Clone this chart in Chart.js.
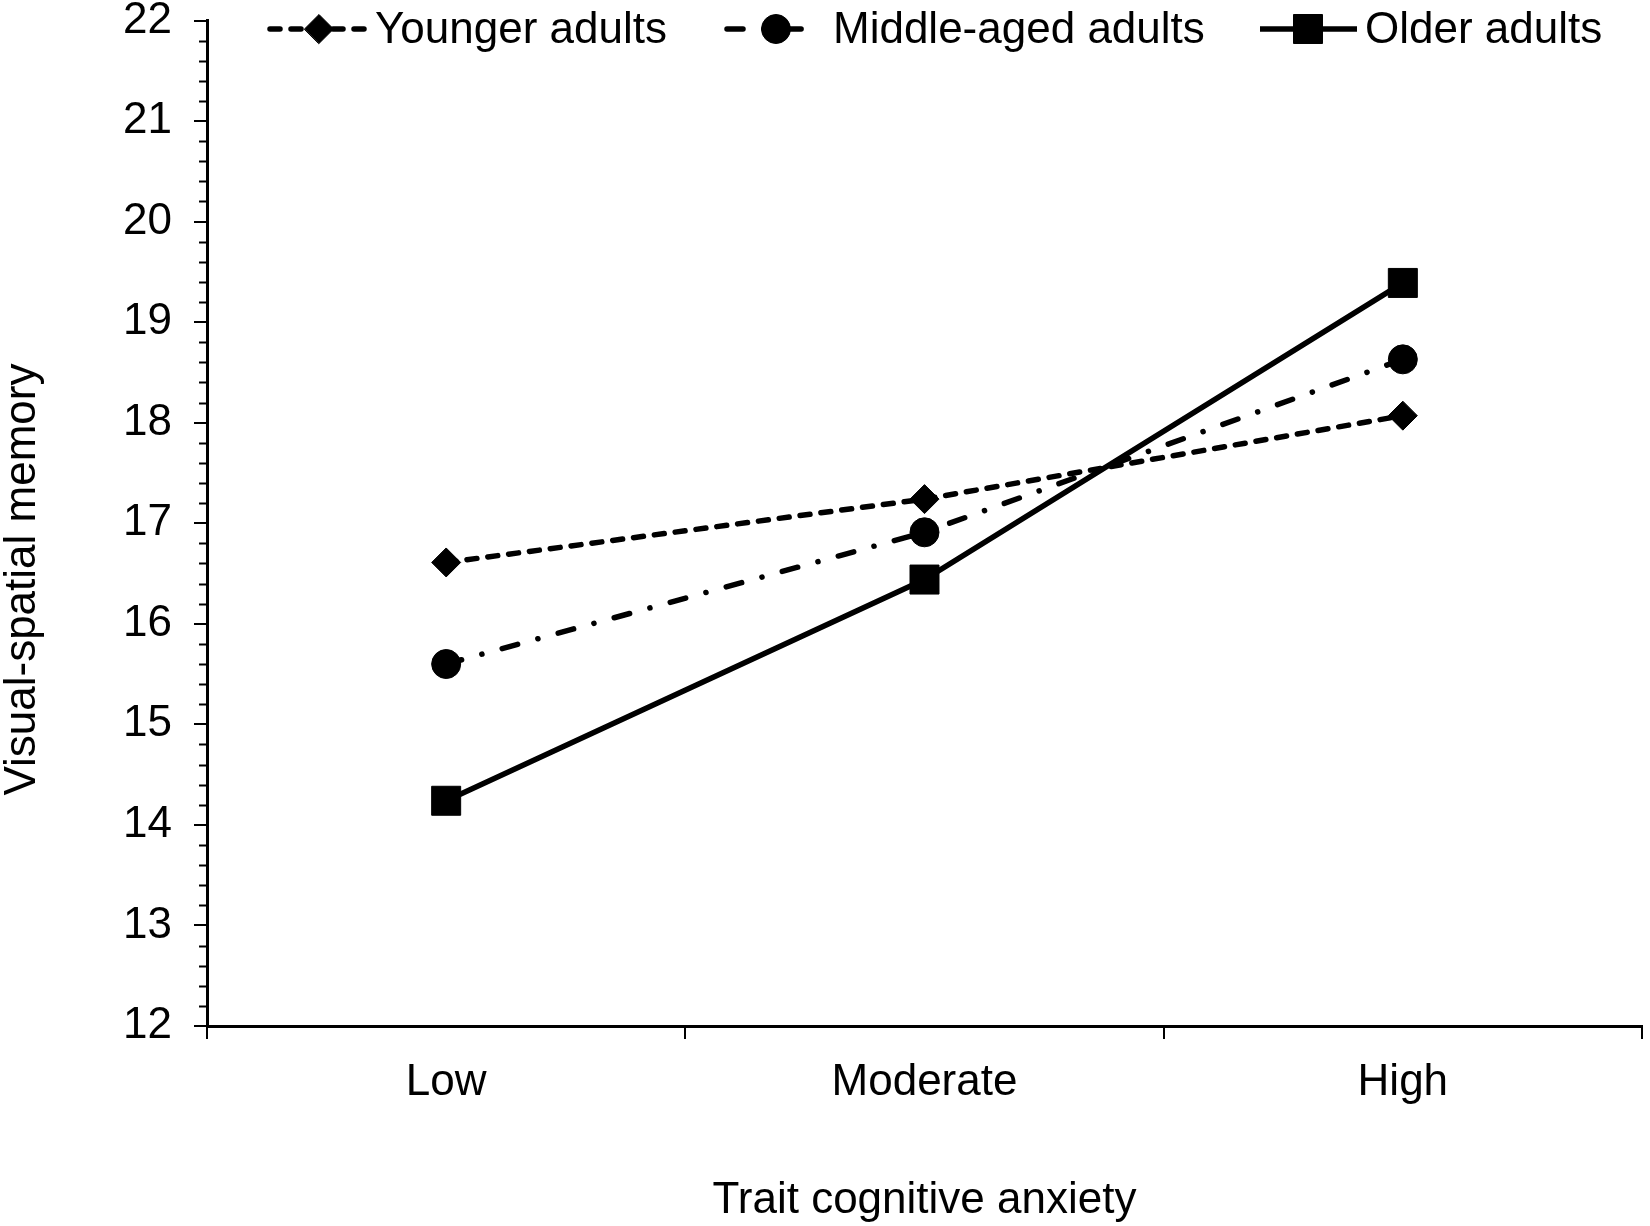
<!DOCTYPE html>
<html>
<head>
<meta charset="utf-8">
<script src="https://cdn.jsdelivr.net/npm/chart.js@4.4.1/dist/chart.umd.min.js"></script>
<style>
  html, body { margin: 0; padding: 0; background: #ffffff; }
  #wrap { width: 1650px; height: 1226px; position: relative; }
</style>
</head>
<body>
<div id="wrap"><canvas id="c"></canvas></div>
<script>
// ---- data ----
const categories = ['Low', 'Moderate', 'High'];
const seriesNames = ['Younger adults', 'Middle-aged adults', 'Older adults'];
const youngerAdults = [16.61, 17.24, 18.07];
const middleAgedAdults = [15.60, 16.91, 18.63];
const olderAdults = [14.24, 16.44, 19.39];
const yMin = 12;
const yMax = 22;
const yMajorStep = 1;
const yMinorStep = 0.2;
const xTitle = 'Trait cognitive anxiety';
const yTitle = 'Visual-spatial memory';

// ---- styles ----
const FONT = '"Liberation Sans", Arial, Helvetica, sans-serif';
const black = '#000000';

// legend layout (offsets from chart-area left, px)
const legendLayout = [
  { start: 63,  len: 100, marker: 49, gap: 5 },
  { start: 520, len: 82,  marker: 49, gap: 24 },
  { start: 1053, len: 97, marker: 48, gap: 8 }
];

const lineLegend = {
  id: 'lineLegend',
  afterDraw(chart) {
    const ctx = chart.ctx;
    const ca = chart.chartArea;
    const cy = ca.top + 8.5;
    ctx.save();
    chart.data.datasets.forEach((ds, i) => {
      const L = legendLayout[i];
      const x0 = ca.left + L.start;
      ctx.strokeStyle = black;
      ctx.lineWidth = ds.borderWidth;
      ctx.lineCap = ds.borderCapStyle || 'butt';
      ctx.setLineDash(ds.borderDash || []);
      ctx.beginPath();
      ctx.moveTo(x0, cy);
      ctx.lineTo(x0 + L.len, cy);
      ctx.stroke();
      ctx.setLineDash([]);
      ctx.fillStyle = black;
      ctx.strokeStyle = black;
      ctx.lineWidth = 1;
      Chart.helpers.drawPoint(ctx, {
        pointStyle: ds.pointStyle,
        radius: ds.pointRadius,
        rotation: 0,
        borderWidth: 1
      }, x0 + L.marker, cy);
      ctx.fillStyle = black;
      ctx.font = '44px ' + FONT;
      ctx.textAlign = 'left';
      ctx.textBaseline = 'alphabetic';
      ctx.fillText(ds.label, x0 + L.len + L.gap, cy + 14);
    });
    ctx.restore();
  }
};

const minorTicks = {
  id: 'minorTicks',
  afterDraw(chart) {
    const s = chart.scales.y;
    const ctx = chart.ctx;
    ctx.save();
    ctx.strokeStyle = black;
    ctx.lineWidth = 2;
    ctx.beginPath();
    const n = Math.round((yMax - yMin) / yMinorStep);
    for (let k = 0; k <= n; k++) {
      const v = yMin + k * yMinorStep;
      if (Math.abs(v - Math.round(v)) < 1e-6) continue;
      const py = Math.round(s.getPixelForValue(v)) + 0.5;
      ctx.moveTo(s.right - 8, py);
      ctx.lineTo(s.right, py);
    }
    ctx.stroke();
    ctx.restore();
  }
};

const yAxisTitle = {
  id: 'yAxisTitle',
  afterDraw(chart) {
    const ctx = chart.ctx;
    const ca = chart.chartArea;
    const cy = ca.top + 0.556 * (ca.bottom - ca.top);
    ctx.save();
    ctx.translate(23, cy);
    ctx.rotate(-Math.PI / 2);
    ctx.fillStyle = black;
    ctx.font = '44px ' + FONT;
    ctx.textAlign = 'center';
    ctx.textBaseline = 'middle';
    ctx.fillText(yTitle, 0, 0);
    ctx.restore();
  }
};

new Chart(document.getElementById('c'), {
  type: 'line',
  data: {
    labels: categories,
    datasets: [
      {
        label: seriesNames[0],
        data: youngerAdults,
        borderColor: black,
        backgroundColor: black,
        borderWidth: 5.5,
        borderDash: [10, 11],
        borderCapStyle: 'round',
        pointStyle: 'rectRot',
        pointRadius: 14.5,
        pointBackgroundColor: black,
        pointBorderColor: black,
        pointBorderWidth: 1,
        tension: 0
      },
      {
        label: seriesNames[1],
        data: middleAgedAdults,
        borderColor: black,
        backgroundColor: black,
        borderWidth: 5.5,
        borderDash: [16, 21, 0.1, 21],
        borderCapStyle: 'round',
        pointStyle: 'circle',
        pointRadius: 14.5,
        pointBackgroundColor: black,
        pointBorderColor: black,
        pointBorderWidth: 1,
        tension: 0
      },
      {
        label: seriesNames[2],
        data: olderAdults,
        borderColor: black,
        backgroundColor: black,
        borderWidth: 5.5,
        borderDash: [],
        borderCapStyle: 'butt',
        pointStyle: 'rect',
        pointRadius: 20.5,
        pointBackgroundColor: black,
        pointBorderColor: black,
        pointBorderWidth: 1,
        tension: 0
      }
    ]
  },
  options: {
    responsive: true,
    maintainAspectRatio: false,
    devicePixelRatio: 1,
    animation: false,
    layout: { autoPadding: false, padding: { top: 20.5, right: 8, bottom: 0, left: 0 } },
    plugins: {
      legend: { display: false },
      tooltip: { enabled: false }
    },
    scales: {
      x: {
        type: 'category',
        offset: true,
        grid: {
          offset: true,
          drawOnChartArea: false,
          drawTicks: true,
          tickLength: 13,
          color: black,
          lineWidth: 2
        },
        border: { display: true, color: black, width: 3 },
        ticks: {
          color: black,
          font: { family: FONT, size: 44, lineHeight: 1 },
          padding: 22,
          maxRotation: 0
        },
        title: {
          display: true,
          text: xTitle,
          color: black,
          font: { family: FONT, size: 44, lineHeight: 1 },
          padding: { top: 0, bottom: 3 }
        },
        afterFit(scale) {
          scale.height = 200;
          scale.paddingLeft = 0;
          scale.paddingRight = 0;
        }
      },
      y: {
        type: 'linear',
        min: yMin,
        max: yMax,
        grid: {
          drawOnChartArea: false,
          drawTicks: true,
          tickLength: 13,
          color: black,
          lineWidth: 2
        },
        border: { display: true, color: black, width: 3 },
        ticks: {
          stepSize: yMajorStep,
          color: black,
          font: { family: FONT, size: 44, lineHeight: 1 },
          padding: 22
        },
        title: { display: false },
        afterFit(scale) {
          scale.width = 207;
          scale.paddingTop = 0;
          scale.paddingBottom = 0;
        }
      }
    }
  },
  plugins: [lineLegend, minorTicks, yAxisTitle]
});
</script>
</body>
</html>
